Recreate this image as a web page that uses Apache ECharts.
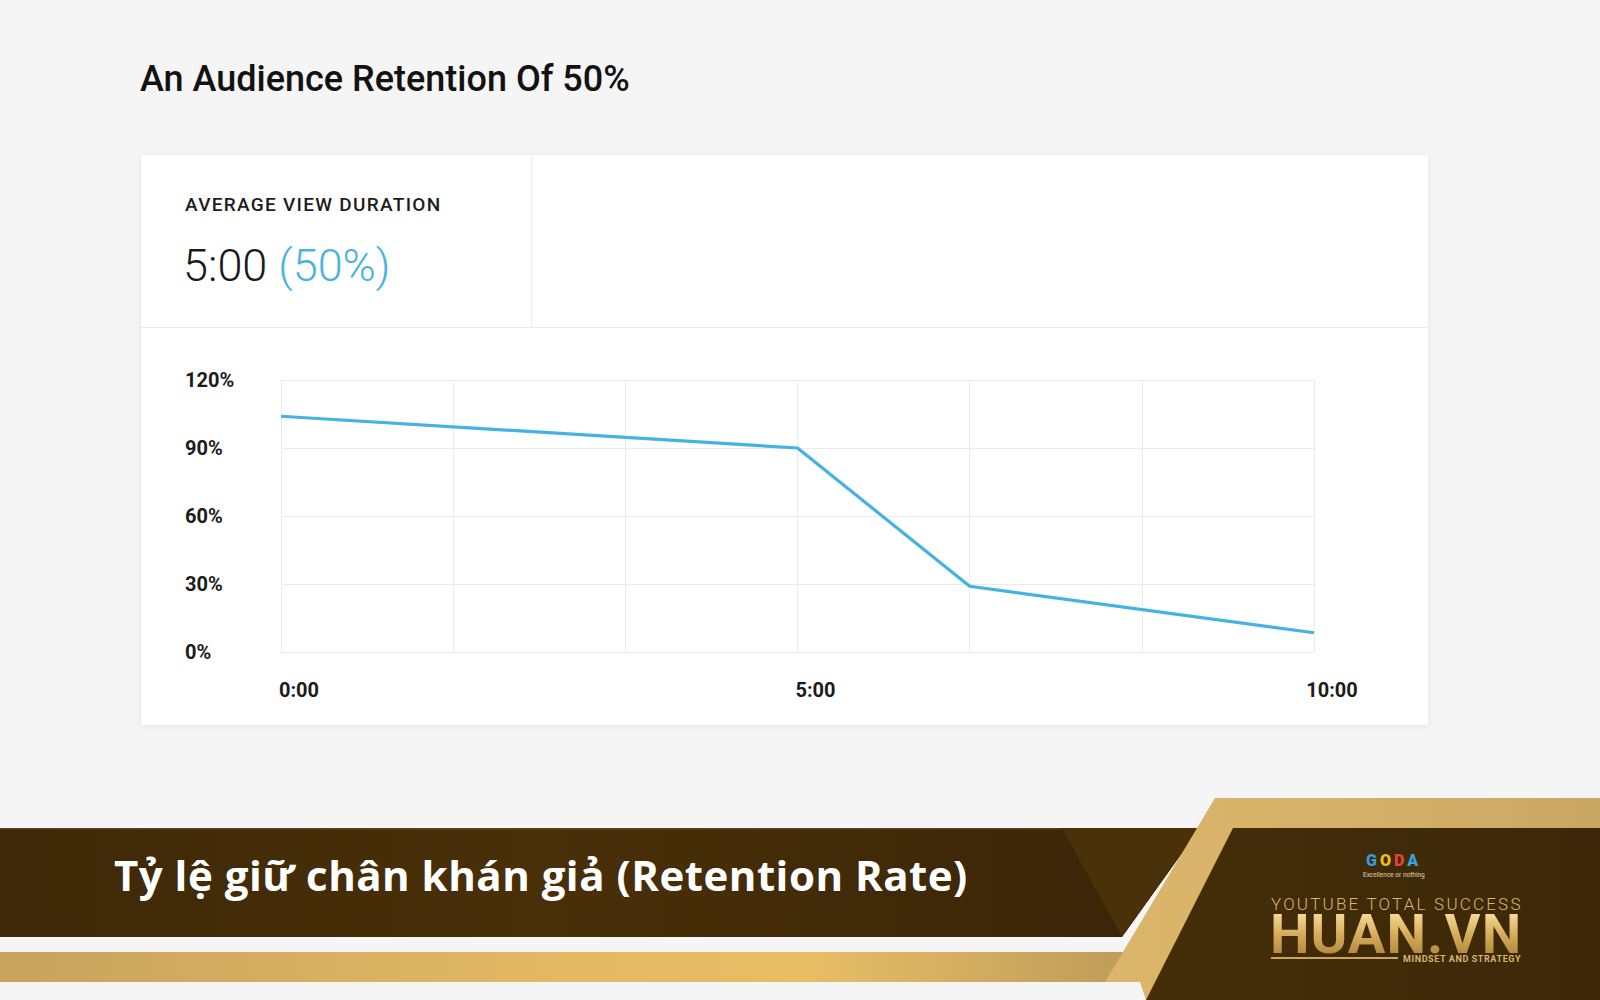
<!DOCTYPE html>
<html>
<head>
<meta charset="utf-8">
<script src="https://cdn.jsdelivr.net/npm/echarts@6/dist/echarts.min.js"></script>
<style>
  html, body { margin: 0; padding: 0; }
  #page { position: relative; width: 1600px; height: 1000px; background: #f5f5f5; overflow: hidden; font-family: Roboto, "Noto Sans", sans-serif; }
  .abs { position: absolute; white-space: nowrap; }
</style>
</head>
<body>
<div id="page">
  <div class="abs" style="left:140px;top:61px;font-size:36px;line-height:36px;font-weight:500;color:#121212;">An Audience Retention Of 50%</div>

  <div class="abs" style="left:141px;top:155px;width:1287px;height:570px;background:#ffffff;box-shadow:0 1px 6px rgba(0,0,0,0.08);">
    <div class="abs" style="left:0;top:172px;width:1287px;height:1px;background:#ebebeb;"></div>
    <div class="abs" style="left:390px;top:0;width:1px;height:172px;background:#ebebeb;"></div>
    <div class="abs" style="left:44px;top:40px;font-size:19px;line-height:19px;font-weight:500;letter-spacing:1.3px;color:#1d1d1d;">AVERAGE VIEW DURATION</div>
    <div class="abs" style="left:42px;top:88px;font-size:45px;line-height:45px;font-weight:300;color:#1a1a1a;">5:00 <span style="color:#4bb3e2;">(50%)</span></div>
  </div>

  <div id="chart" class="abs" style="left:0;top:0;width:1600px;height:1000px;"></div>

  <svg class="abs" style="left:0;top:0;" width="1600" height="1000" viewBox="0 0 1600 1000">
    <defs>
      <linearGradient id="band" x1="0" x2="1" y1="0" y2="0">
        <stop offset="0" stop-color="#3e2807"/>
        <stop offset="0.45" stop-color="#4a3009"/>
        <stop offset="0.95" stop-color="#392507"/>
      </linearGradient>
      <linearGradient id="goldbar" x1="0" x2="1" y1="0" y2="0">
        <stop offset="0" stop-color="#c9a35e"/>
        <stop offset="0.5" stop-color="#e3b964"/>
        <stop offset="0.72" stop-color="#e7bd66"/>
        <stop offset="1" stop-color="#bf9c5a"/>
      </linearGradient>
      <linearGradient id="goldstripe" x1="0" x2="1" y1="0" y2="0">
        <stop offset="0" stop-color="#dcb66a"/>
        <stop offset="0.6" stop-color="#d2ae68"/>
        <stop offset="1" stop-color="#c9a764"/>
      </linearGradient>
      <linearGradient id="panel" x1="0" x2="1" y1="0" y2="0">
        <stop offset="0" stop-color="#442d09"/>
        <stop offset="1" stop-color="#3c2808"/>
      </linearGradient>
    </defs>
    <rect x="0" y="952" width="1125" height="30" fill="url(#goldbar)"/>
    <polygon points="0,828 1200,828 1122,937 0,937" fill="url(#band)"/>
    <rect x="0" y="828" width="1062" height="1.5" fill="#6b5330" opacity="0.6"/>
    <polygon points="1062,828 1200,828 1122,937" fill="#4a3109"/>
    <polygon points="1215,798 1600,798 1600,1000 1146,1000 1140,982 1105,982" fill="url(#goldstripe)"/>
    <polygon points="1233,828 1600,828 1600,1000 1146,1000" fill="url(#panel)"/>
  </svg>

  <div class="abs" style="left:114px;top:854px;font-family:'Open Sans','Noto Sans',sans-serif;font-size:42px;line-height:42px;font-weight:700;letter-spacing:0.5px;color:#ffffff;">Tỷ lệ giữ chân khán giả (Retention Rate)</div>

  <div class="abs" style="left:1366px;top:853px;font-size:16px;line-height:16px;font-weight:900;letter-spacing:3px;">
    <span style="color:#3a97dc;">G</span><span style="color:#f0be22;">O</span><span style="color:#e5443a;">D</span><span style="color:#38a3e0;">A</span>
  </div>
  <div class="abs" style="left:1363px;top:872px;font-size:6.5px;line-height:7px;color:#e6d3ad;">Excellence or nothing</div>
  <div class="abs" style="left:1271px;top:897px;font-size:17px;line-height:14px;font-weight:300;letter-spacing:2.2px;color:#d8b56e;">YOUTUBE TOTAL SUCCESS</div>
  <div class="abs" style="left:1270px;top:914px;font-size:56px;line-height:40px;font-weight:700;letter-spacing:1px;background:linear-gradient(180deg,#f5d993 0%,#d7ad5c 50%,#b48a40 100%);-webkit-background-clip:text;background-clip:text;color:transparent;">HUAN.VN</div>
  <div class="abs" style="left:1271px;top:957px;width:127px;height:2px;background:#c9a55f;"></div>
  <div class="abs" style="left:1403px;top:955px;font-size:9px;line-height:9px;font-weight:700;letter-spacing:0.6px;color:#d8b56e;">MINDSET AND STRATEGY</div>
</div>

<script>
// ---- data ----
const timeSeconds = [0, 300, 400, 600];          // position along the 10:00 video
const retentionPct = [104, 90, 29, 8.5];         // audience retention (%)
const xLabelValues = [0, 300, 600];
const xLabelTexts = ['0:00', '5:00', '10:00'];
const yMin = 0, yMax = 120, yStep = 30;
const xMin = 0, xMax = 600, xStep = 100;

const seriesData = timeSeconds.map((t, i) => [t, retentionPct[i]]);

const chart = echarts.init(document.getElementById('chart'), null, { renderer: 'svg' });
chart.setOption({
  backgroundColor: 'transparent',
  animation: false,
  grid: { left: 281, right: 286, top: 380, bottom: 348, containLabel: false },
  xAxis: {
    type: 'value', min: xMin, max: xMax, interval: xStep,
    axisLine: { show: false }, axisTick: { show: false },
    splitLine: { show: true, lineStyle: { color: '#ebebeb', width: 1 } },
    axisLabel: {
      margin: 28, fontFamily: 'Roboto', fontSize: 20, fontWeight: 'bold', color: '#1b1b1b',
      padding: [0, 0, 0, 36],
      formatter: v => { const i = xLabelValues.indexOf(v); return i >= 0 ? xLabelTexts[i] : ''; }
    }
  },
  yAxis: {
    type: 'value', min: yMin, max: yMax, interval: yStep,
    axisLine: { show: false }, axisTick: { show: false },
    splitLine: { show: true, lineStyle: { color: '#ebebeb', width: 1 } },
    axisLabel: {
      margin: 96, align: 'left', fontFamily: 'Roboto', fontSize: 20, fontWeight: 'bold', color: '#1b1b1b',
      formatter: '{value}%'
    }
  },
  series: [{
    type: 'line', data: seriesData, showSymbol: false, symbol: 'none',
    lineStyle: { color: '#44b3e2', width: 3.2 }
  }]
});
</script>
</body>
</html>
